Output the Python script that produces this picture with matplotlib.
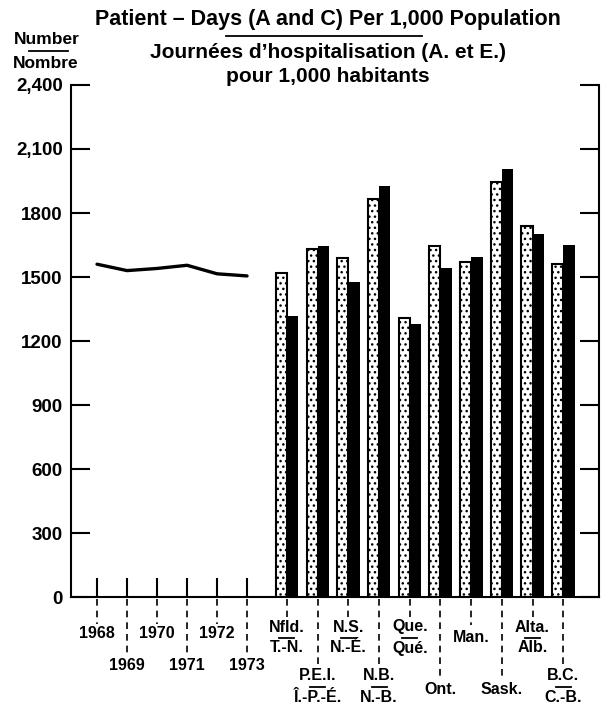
import matplotlib
matplotlib.use("Agg")
import matplotlib.pyplot as plt
from matplotlib import transforms
from matplotlib.lines import Line2D
import numpy as np

plt.rcParams["font.family"] = ["Liberation Sans", "DejaVu Sans"]
plt.rcParams["font.weight"] = "bold"
plt.rcParams["hatch.linewidth"] = 1.0

# Canada, patient-days per 1,000 population
years = ["1968", "1969", "1970", "1971", "1972", "1973"]
canada = [1560, 1530, 1540, 1555, 1515, 1505]

# provinces, two bars each (stippled / black)
prov_en = ["Nfld.", "P.E.I.", "N.S.", "N.B.", "Que.", "Ont.", "Man.", "Sask.", "Alta.", "B.C."]
prov_fr = ["T.-N.", "Î.-P.-É.", "N.-É.", "N.-B.", "Qué.", "", "", "", "Alb.", "C.-B."]
val_dots = [1520, 1630, 1590, 1865, 1310, 1645, 1570, 1945, 1740, 1560]
val_black = [1315, 1645, 1475, 1925, 1280, 1540, 1595, 2005, 1700, 1650]

yticks = [0, 300, 600, 900, 1200, 1500, 1800, 2100, 2400]
ylabels = ["0", "300", "600", "900", "1200", "1500", "1800", "2,100", "2,400"]

W, H = 602, 706
fig = plt.figure(figsize=(W / 100, H / 100), dpi=100)
ax = fig.add_axes([71 / W, 1 - 597 / H, (599 - 71) / W, 512 / H])


def fy(ypx):
    return 1 - ypx / H


yx = np.arange(len(years))
px = 6.33 + np.arange(len(prov_en)) * 1.023

ax.plot(yx, canada, color="black", lw=2.4, solid_capstyle="round")
ax.bar(px - 0.185, val_dots, width=0.37, facecolor="white", edgecolor="black",
       hatch="...", lw=1.5)
ax.bar(px + 0.19, val_black, width=0.38, color="black")

ax.set_xlim(-0.867, 16.73)
ax.set_ylim(0, 2400)
ax.spines["top"].set_visible(False)
for s in ["left", "right", "bottom"]:
    ax.spines[s].set_linewidth(1.5)

ax.set_yticks(yticks, ylabels)
ax.tick_params(axis="y", direction="in", length=14, width=1.5, left=True,
               right=True, labelsize=13.5, pad=6)
allx = list(yx) + list(px)
ax.set_xticks(allx, [""] * len(allx))
ax.tick_params(axis="x", direction="in", length=14, width=1.5)

trans = transforms.blended_transform_factory(ax.transData, fig.transFigure)
fs = 11.5

# year labels, staggered
for i, yr in enumerate(years):
    ylab = 634 if i % 2 == 0 else 665
    ax.plot([yx[i], yx[i]], [fy(599), fy(ylab - 10)], transform=trans,
            clip_on=False, color="black", lw=1.2, ls=(0, (4, 3)))
    ax.text(yx[i], fy(ylab), yr, transform=trans, ha="center", va="center",
            fontsize=fs)

# province labels, staggered
for i, (en, fr) in enumerate(zip(prov_en, prov_fr)):
    x = px[i]
    if fr == "":
        ylab = 637 if i % 2 == 0 else 690
        ax.plot([x, x], [fy(599), fy(ylab - 12)], transform=trans,
                clip_on=False, color="black", lw=1.2, ls=(0, (4, 3)))
        ax.text(x, fy(ylab), en, transform=trans, ha="center", va="center",
                fontsize=fs)
    else:
        top = 627 if i % 2 == 0 else 676
        ax.plot([x, x], [fy(599), fy(top - 10)], transform=trans,
                clip_on=False, color="black", lw=1.2, ls=(0, (4, 3)))
        ax.text(x, fy(top), en, transform=trans, ha="center", va="center",
                fontsize=fs)
        ax.text(x, fy(top + 21), fr, transform=trans, ha="center", va="center",
                fontsize=fs)
        ax.plot([x - 0.25, x + 0.25], [fy(top + 11), fy(top + 11)],
                transform=trans, clip_on=False, color="black", lw=1.3)

# titles
fig.text(328 / W, fy(19), "Patient \u2013 Days (A and C) Per 1,000 Population",
         ha="center", va="center", fontsize=15.5)
fig.text(328 / W, fy(52), "Journées d\u2019hospitalisation (A. et E.)",
         ha="center", va="center", fontsize=15)
fig.text(328 / W, fy(76), "pour 1,000 habitants",
         ha="center", va="center", fontsize=15)
fig.add_artist(Line2D([226 / W, 422 / W], [fy(36), fy(36)], color="black", lw=1.3))

fig.text(47 / W, fy(40), "Number", ha="center", va="center", fontsize=12.5)
fig.text(46 / W, fy(63), "Nombre", ha="center", va="center", fontsize=12.5)
fig.add_artist(Line2D([29 / W, 68 / W], [fy(51), fy(51)], color="black", lw=1.3))

fig.savefig("out.png", dpi=100)
